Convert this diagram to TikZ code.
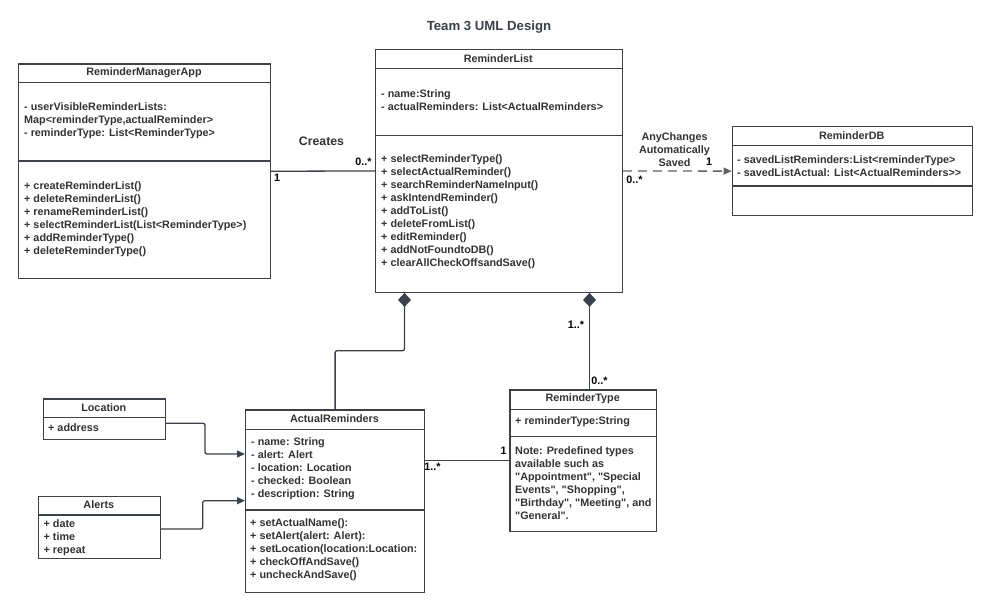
\documentclass[tikz,border=0pt]{standalone}
\usepackage{fontspec}
\setmainfont{Liberation Sans}[Ligatures=TeXOff]
\usetikzlibrary{arrows.meta}
\definecolor{ln}{HTML}{3A414A}
\definecolor{tx}{HTML}{333333}
\definecolor{dsh}{HTML}{5F6368}
\begin{document}
\begin{tikzpicture}[x=1pt,y=-1pt,
  box/.style={draw=ln, line width=1.2pt, inner sep=0pt, anchor=north west, fill=white},
  div/.style={draw=ln, line width=1.2pt},
  ttl/.style={text=tx, font=\fontsize{10.8}{13}\selectfont\bfseries, inner sep=0pt},
  txt/.style={text=tx, font=\fontsize{10.8}{13}\selectfont\bfseries, inner sep=0pt, align=left, anchor=west},
  lbl/.style={text=black, font=\fontsize{10.8}{13}\selectfont\bfseries, inner sep=0pt},
  conn/.style={draw=ln, line width=1.3pt, rounded corners=2pt},
  comp/.style={conn, {Diamond[length=14pt,width=13pt]}-},
  arr/.style={conn, -{Triangle[length=8pt,width=7pt]}},
  dep/.style={draw=dsh, line width=1.4pt, dash pattern=on 9pt off 6pt, -{Triangle[length=8pt,width=7pt]}}
]
\useasboundingbox[fill=white] (0,0) rectangle (991,611);

% title
\node[text=ln, font=\fontsize{13.2}{15}\selectfont\bfseries, inner sep=0pt] (title) at (489,27) {Team 3 UML Design};

% ReminderManagerApp
\node[box, minimum width=252pt, minimum height=214.7pt] (rma) at (18,63.3) {};
\draw[div] (18,82.7) -- (270,82.7);
\draw[div] (18,161) -- (270,161);
\node[ttl] (rmaT) at (144,72.8) {ReminderManagerApp};
\node[txt] (rmaA) at (24,120.5) {- userVisibleReminderLists:\\Map<reminderType,actualReminder>\\- reminderType: List<ReminderType>};
\node[txt] (rmaM) at (24,219.2) {+ createReminderList()\\+ deleteReminderList()\\+ renameReminderList()\\+ selectReminderList(List<ReminderType>)\\+ addReminderType()\\+ deleteReminderType()};

% ReminderList
\node[box, minimum width=246.7pt, minimum height=242.7pt] (rl) at (375,49) {};
\draw[div] (375,68.3) -- (621.7,68.3);
\draw[div] (375,135.7) -- (621.7,135.7);
\node[ttl] (rlT) at (498.3,58.6) {ReminderList};
\node[txt] (rlA) at (381,100.3) {- name:String\\- actualReminders: List<ActualReminders>};
\node[txt] (rlM) at (381,212) {+ selectReminderType()\\+ selectActualReminder()\\+ searchReminderNameInput()\\+ askIntendReminder()\\+ addToList()\\+ deleteFromList()\\+ editReminder()\\+ addNotFoundtoDB()\\+ clearAllCheckOffsandSave()};

% ReminderDB
\node[box, minimum width=240pt, minimum height=89pt] (rdb) at (731.7,126) {};
\draw[div] (731.7,145.3) -- (971.7,145.3);
\draw[div] (731.7,186) -- (971.7,186);
\node[ttl] (rdbT) at (851.7,135.6) {ReminderDB};
\node[txt] (rdbA) at (737,165.7) {- savedListReminders:List<reminderType>\\- savedListActual: List<ActualReminders>{}>};

% Location
\node[box, minimum width=122.3pt, minimum height=40.7pt] (loc) at (42.7,398.3) {};
\draw[div] (42.7,417.7) -- (165,417.7);
\node[ttl] (locT) at (103.8,407.3) {Location};
\node[txt] (locA) at (48,427.6) {+ address};

% Alerts
\node[box, minimum width=122.3pt, minimum height=62.3pt] (alr) at (37.7,495.7) {};
\draw[div] (37.7,515) -- (160,515);
\node[ttl] (alrT) at (98.8,504.7) {Alerts};
\node[txt] (alrA) at (43.5,538) {+ date\\+ time\\+ repeat};

% ActualReminders
\node[box, minimum width=179pt, minimum height=182.4pt] (ar) at (245,409.3) {};
\draw[div] (245,429.3) -- (424,429.3);
\draw[div] (245,510) -- (424,510);
\node[ttl] (arT) at (334.5,419) {ActualReminders};
\node[txt] (arA) at (251,468.5) {- name: String\\- alert: Alert\\- location: Location\\- checked: Boolean\\- description: String};
\node[txt] (arM) at (250,550) {+ setActualName():\\+ setAlert(alert: Alert):\\+ setLocation(location:Location:\\+ checkOffAndSave()\\+ uncheckAndSave()};

% ReminderType
\node[box, minimum width=146.7pt, minimum height=141.4pt] (rt) at (509.3,389.3) {};
\draw[div] (509.3,409.3) -- (656,409.3);
\draw[div] (509.3,436.7) -- (656,436.7);
\node[ttl] (rtT) at (582.7,399.2) {ReminderType};
\node[txt] (rtA) at (515,422) {+ reminderType:String};
\node[txt] (rtN) at (515,483.5) {Note: Predefined types\\available such as\\"Appointment", "Special\\Events", "Shopping",\\"Birthday", "Meeting", and\\"General".};

% helper coordinates
\coordinate (k1) at (404.5,350.7);
\coordinate (k2) at (589.5,340);
\coordinate (l1) at (205,423.3);
\coordinate (l2) at (0,454);
\coordinate (a1) at (202.7,529);
\coordinate (a2) at (0,500.7);

% connectors
\draw[conn] (rma.east) -- (rl.west);
\node[lbl] (m1) at (277,177.5) {1};
\node[lbl] (m2) at (363.5,161.5) {0..*};
\node[text=tx, font=\fontsize{12.3}{14}\selectfont\bfseries, inner sep=0pt] (cr) at (321.5,141.7) {Creates};

\draw[dep] (rl.east) -- (rdb.west);
\node[text=tx, font=\fontsize{10.8}{12.9}\selectfont\bfseries, inner sep=0pt, align=center] (acs) at (674.5,149.5) {AnyChanges\\Automatically\\Saved};
\node[lbl] (m3) at (709,162) {1};
\node[lbl] (m4) at (634.5,179.5) {0..*};

\draw[comp] (k1 |- rl.south) -- (k1) -| (ar.north);
\draw[comp] (k2 |- rl.south) -- (k2 |- rt.north);
\node[lbl] (m5) at (576,324.5) {1..*};
\node[lbl] (m6) at (599.5,380.5) {0..*};

\draw[conn] (ar.east |- rt.west) -- (rt.west);
\node[lbl] (m7) at (432.5,466.5) {1..*};
\node[lbl] (m8) at (503.5,450.5) {1};

\draw[arr] (loc.east |- l1) -- (l1) |- (ar.west |- l2);
\draw[arr] (alr.east |- a1) -- (a1) |- (ar.west |- a2);

\end{tikzpicture}
\end{document}
